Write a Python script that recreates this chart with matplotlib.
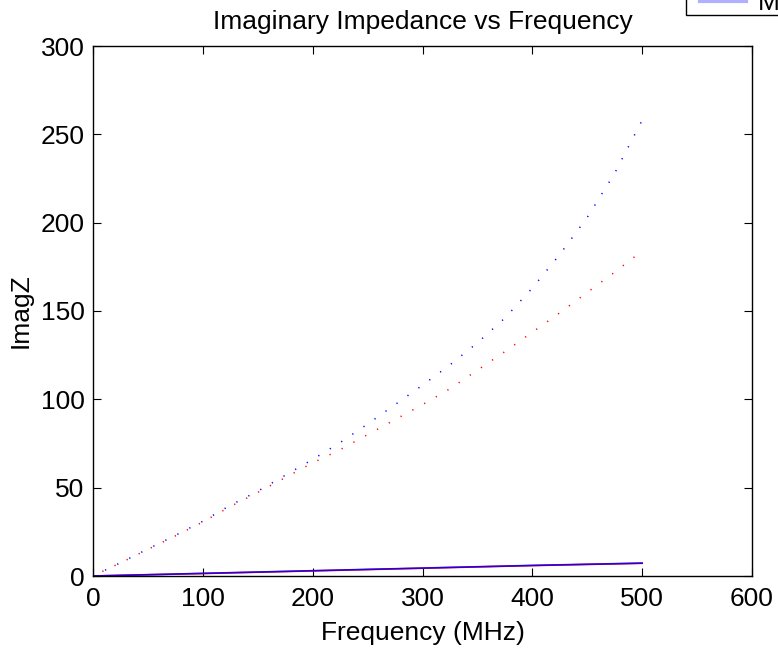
import numpy as np
import matplotlib
matplotlib.use('Agg')
import matplotlib.pyplot as plt
from matplotlib.lines import Line2D
from matplotlib.legend_handler import HandlerLine2D

plt.rcParams['font.family'] = ['Liberation Sans', 'DejaVu Sans']

# frequency points (MHz) for the dotted curves
freq = [0, 10, 25, 50, 75, 100, 125, 150, 175, 200, 225, 250, 275, 300,
        325, 350, 375, 400, 425, 450, 475, 500]
imag_blue = [0, 3, 7.5, 15.3, 23, 31, 40, 48, 57, 66, 75.5, 86, 97, 108,
             119.5, 132, 146, 163, 182, 203, 228, 258]
imag_red = [0, 3, 7.4, 15.1, 22.7, 30.6, 39.3, 47.3, 55.7, 64, 71.5, 80, 88.5, 97,
            106, 116.5, 127, 138, 149, 160.5, 172, 184]

# solid low curves
freq_low = [0, 100, 200, 300, 400, 500]
low_blue = [0, 1.5, 3.0, 4.5, 6.0, 7.3]
low_red = [0, 1.4, 2.9, 4.4, 5.9, 7.2]

fs = 19

fig = plt.figure(figsize=(7.78, 6.5), dpi=100)
ax = fig.add_axes([93 / 778, 1 - 576 / 650, (752 - 93) / 778, (576 - 46) / 650])

ax.plot(freq, imag_blue, color='blue', lw=1.1, linestyle=(0, (0.8, 8)))
ax.plot(freq, imag_red, color='red', lw=1.1, linestyle=(2, (0.8, 8)))
ax.plot(freq_low, low_red, color='red', lw=1.2)
ax.plot(freq_low, low_blue, color='blue', lw=1.2, alpha=0.85)

ax.set_xlim(0, 600)
ax.set_ylim(0, 300)
ax.set_xticks(range(0, 601, 100))
ax.set_yticks(range(0, 301, 50))
ax.tick_params(direction='in', top=True, right=True, length=6, width=0.8,
               labelsize=fs)
ax.tick_params(axis='x', pad=8)
ax.tick_params(axis='y', pad=6)
for s in ax.spines.values():
    s.set_linewidth(1.0)
ax.set_xlabel('Frequency (MHz)', fontsize=fs, labelpad=7)
ax.set_ylabel('ImagZ', fontsize=fs, labelpad=6)
ax.set_title('Imaginary Impedance vs Frequency', fontsize=fs, pad=12)

# legend sits mostly above the figure, only its last row shows
handles = [Line2D([], [], color='red', lw=1), Line2D([], [], color='#b0b0ff', lw=3)]
fig.legend(handles, ['Model', 'Measured'], loc='lower left',
           bbox_to_anchor=(686 / 778, 1 - 15 / 650), fontsize=fs,
           frameon=True, fancybox=False, edgecolor='black', framealpha=1,
           handlelength=2.27, handletextpad=0.46, borderaxespad=0,
           borderpad=0.0, labelspacing=0.2,
           handler_map={Line2D: HandlerLine2D(xpad=0.54)})

fig.savefig('out.png', dpi=100)
